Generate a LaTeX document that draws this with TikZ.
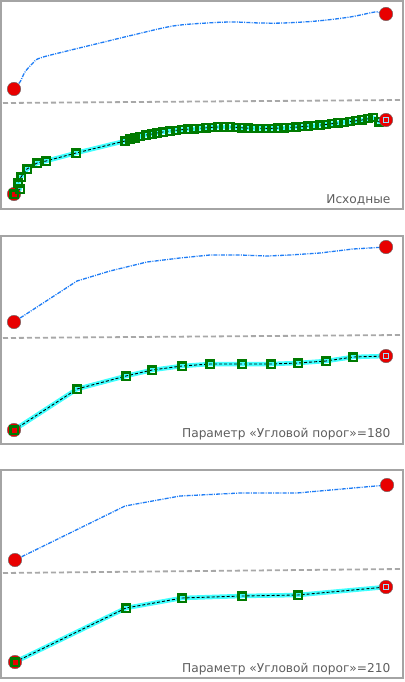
\documentclass[tikz,border=0pt]{standalone}
\usepackage{fontspec}
\setmainfont{DejaVu Sans}
\definecolor{framegray}{HTML}{A4A4A4}
\definecolor{sepgray}{HTML}{A8A8A8}
\definecolor{textgray}{HTML}{5E5E5E}
\definecolor{lineblue}{HTML}{1F7DF5}
\definecolor{bandcyan}{HTML}{40FFFF}
\definecolor{markgreen}{HTML}{007A00}
\definecolor{dotred}{HTML}{E80000}
\begin{document}
\begin{tikzpicture}[x=1pt, y=-1pt,
  frame/.style = {draw=framegray, line width=2.2pt},
  separator/.style = {draw=sepgray, line width=1.8pt, dash pattern=on 5pt off 3pt},
  source/.style = {draw=lineblue, line width=1.3pt,
    dash pattern=on 4pt off 1.2pt on 1pt off 1.2pt},
  band/.style = {draw=bandcyan, line width=4.5pt, line join=round},
  centre/.style = {draw=black, line width=0.9pt, dash pattern=on 3pt off 2pt},
  vertex/.style = {shape=rectangle, draw=markgreen, line width=2.2pt,
    minimum size=7.2pt, inner sep=0pt},
  endvertex/.style = {shape=rectangle, draw=white!60!cyan, line width=1pt,
    minimum size=5pt, inner sep=0pt},
  point/.style = {shape=circle, fill=dotred, draw=black!60, line width=0.4pt,
    minimum size=13.5pt, inner sep=0pt},
  caption/.style = {anchor=base east, text=textgray, font=\fontsize{12.2}{14}\selectfont}
  ]
  \useasboundingbox (0,0) rectangle (404,682);
  % frames
  \draw[frame] (1,1) rectangle (403,209);
  \draw[frame] (1,236) rectangle (403,444);
  \draw[frame] (1,470) rectangle (403,678);
  \draw[separator] (3,103) -- (401,100);
  \draw[separator] (3,338) -- (401,335);
  \draw[separator] (3,573) -- (401,569);

  % panel 1: source line
  \coordinate (s1a) at (14,89);
  \coordinate (s1b) at (386,14);
  \draw[source] plot[smooth, tension=0.55] coordinates {(s1a) (20,82) (25,72) (33,63)
    (40,58) (67,51) (100,43) (133,35) (173,26) (207,23) (233,22) (260,23) (283,23)
    (317,21) (350,17) (375,12) (380,13) (s1b)};
  % panel 1: result
  \foreach \x/\y [count=\i] in {14/194, 20/189, 18/183, 21/177, 27/169, 37/163, 46/161,
    76/153, 125/141, 130/139, 135/138, 140/136.5, 146/135, 152/134, 157/133, 163/132,
    170/131, 176/130.3, 182/129.7, 188/129.2, 194/128.8, 200/128.3, 206/127.8,
    212/127.3, 218/127, 224/127, 230/127, 236/127.3, 242/127.8, 248/128.1, 254/128.3,
    260/128.4, 266/128.4, 272/128.3, 278/128.1, 284/127.8, 290/127.5, 296/127.1,
    302/126.7, 308/126.2, 314/125.7, 320/125.1, 326/124.4, 332/123.7, 338/123,
    344/122.3, 350/121.6, 356/120.8, 362/120, 368/118.8, 373/117.5, 379/122}
    {\coordinate (r1-\i) at (\x,\y); \xdef\nfirst{\i}}
  \coordinate (r1a) at (14,194);
  \coordinate (r1b) at (386,120);
  \draw[band] (r1a) \foreach \i in {1,...,\nfirst} {-- (r1-\i)} -- (r1b);
  \draw[centre] (r1a) \foreach \i in {1,...,\nfirst} {-- (r1-\i)} -- (r1b);
  \node[point] (p1a) at (s1a) {};
  \node[point] (p1b) at (s1b) {};
  \node[point] (q1a) at (r1a) {};
  \foreach \i in {1,...,\nfirst} \node[vertex] (v1-\i) at (r1-\i) {};
  \node[point] (q1b) at (r1b) {};
  \node[endvertex] (w1) at (q1b) {};
  \node[caption] (t1) at (394,203) {Исходные};

  % panel 2: source line
  \coordinate (s2a) at (14,322);
  \coordinate (s2b) at (386,247);
  \draw[source] (s2a) -- (77,281) -- (110,271) -- (147,262) -- (180,258) -- (210,255)
    -- (240,255) -- (267,256) -- (290,255) -- (320,253) -- (353,249) -- (s2b);
  % panel 2: result
  \foreach \x/\y [count=\i] in {14/430, 77/389, 126/376, 152/370, 182/366, 210/364,
    242/364, 271/364, 298/363, 326/361, 353/357}
    {\coordinate (r2-\i) at (\x,\y); \xdef\nsecond{\i}}
  \coordinate (r2b) at (386,356);
  \draw[band] (r2-1) \foreach \i in {2,...,\nsecond} {-- (r2-\i)} -- (r2b);
  \draw[centre] (r2-1) \foreach \i in {2,...,\nsecond} {-- (r2-\i)} -- (r2b);
  \node[point] (p2a) at (s2a) {};
  \node[point] (p2b) at (s2b) {};
  \node[point] (q2a) at (r2-1) {};
  \node[point] (q2b) at (r2b) {};
  \foreach \i in {1,...,\nsecond} \node[vertex] (v2-\i) at (r2-\i) {};
  \node[endvertex] (w2) at (q2b) {};
  \node[caption] (t2) at (394,437) {Параметр «Угловой порог»=180};

  % panel 3: source line
  \coordinate (s3a) at (15,560);
  \coordinate (s3b) at (387,485);
  \draw[source] (s3a) -- (125,506) -- (180,496) -- (240,493) -- (297,493) -- (s3b);
  % panel 3: result
  \foreach \x/\y [count=\i] in {15/662, 126/608, 182/598, 242/596, 298/595}
    {\coordinate (r3-\i) at (\x,\y); \xdef\nthird{\i}}
  \coordinate (r3b) at (386,587);
  \draw[band] (r3-1) \foreach \i in {2,...,\nthird} {-- (r3-\i)} -- (r3b);
  \draw[centre] (r3-1) \foreach \i in {2,...,\nthird} {-- (r3-\i)} -- (r3b);
  \node[point] (p3a) at (s3a) {};
  \node[point] (p3b) at (s3b) {};
  \node[point] (q3a) at (r3-1) {};
  \node[point] (q3b) at (r3b) {};
  \foreach \i in {1,...,\nthird} \node[vertex] (v3-\i) at (r3-\i) {};
  \node[endvertex] (w3) at (q3b) {};
  \node[caption] (t3) at (394,672) {Параметр «Угловой порог»=210};
\end{tikzpicture}
\end{document}
